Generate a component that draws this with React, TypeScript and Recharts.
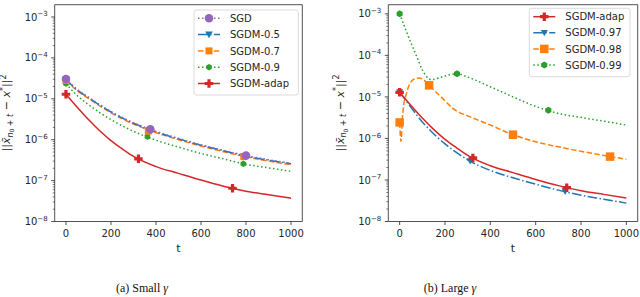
import React from "react";
import { ComposedChart, Line, Scatter, XAxis, YAxis, ReferenceArea } from "recharts";

const FONT = "DejaVu Sans, sans-serif";
const INK = "#262626";

// axes
const xTicks = [0, 200, 400, 600, 800, 1000];
const xDomain: [number, number] = [-50, 1050];
const decadeExps = [-8, -7, -6, -5, -4, -3];

// colours (matplotlib tab10)
const BLUE = "#1f77b4";
const ORANGE = "#ff7f0e";
const GREEN = "#2ca02c";
const RED = "#d62728";
const PURPLE = "#9467bd";

// (a) small gamma
const smallT = [0, 50, 100, 150, 200, 300, 400, 500, 600, 700, 800, 900, 1000];
const sgd = [3.05e-5, 1.7e-5, 1.1e-5, 7.2e-6, 4.9e-6, 2.6e-6, 1.6e-6, 1.08e-6, 7.5e-7, 5.5e-7, 4.1e-7, 3.25e-7, 2.65e-7];
const sgdm05 = [2.95e-5, 1.65e-5, 1.07e-5, 7.0e-6, 4.75e-6, 2.52e-6, 1.55e-6, 1.05e-6, 7.3e-7, 5.35e-7, 4.0e-7, 3.15e-7, 2.58e-7];
const sgdm07 = [2.8e-5, 1.58e-5, 1.02e-5, 6.7e-6, 4.55e-6, 2.42e-6, 1.49e-6, 1.0e-6, 7.0e-7, 5.1e-7, 3.8e-7, 3.0e-7, 2.45e-7];
const sgdm09 = [2.35e-5, 1.2e-5, 7.2e-6, 4.6e-6, 3.1e-6, 1.6e-6, 9.7e-7, 6.6e-7, 4.6e-7, 3.4e-7, 2.5e-7, 2.05e-7, 1.68e-7];

const adapT = [0, 50, 100, 150, 200, 250, 300, 400, 500, 600, 700, 800, 900, 1000];
const adap = [1.29e-5, 6.2e-6, 3.1e-6, 1.65e-6, 9.5e-7, 6.0e-7, 3.9e-7, 2.2e-7, 1.5e-7, 1.03e-7, 7.3e-8, 5.5e-8, 4.5e-8, 3.7e-8];

const sgdMarkT = [0, 375, 800];
const sgdMarkV = [3.05e-5, 1.8e-6, 4.1e-7];
const sgdm05MarkT = [0, 372, 797];
const sgdm05MarkV = [2.95e-5, 1.73e-6, 4.0e-7];
const sgdm07MarkT = [0, 366, 790];
const sgdm07MarkV = [2.8e-5, 1.62e-6, 3.85e-7];
const sgdm09MarkT = [0, 362, 788];
const sgdm09MarkV = [2.35e-5, 1.18e-6, 2.57e-7];
const adapMarkT = [0, 322, 740];
const adapMarkV = [1.29e-5, 3.4e-7, 6.5e-8];

// (b) large gamma
const sgdm97 = [1.3e-5, 5.6e-6, 2.5e-6, 1.3e-6, 7.4e-7, 4.6e-7, 3.05e-7, 1.7e-7, 1.13e-7, 7.9e-8, 5.7e-8, 4.3e-8, 3.45e-8, 2.77e-8];
const sgdm98T = [0, 6, 12, 18, 25, 40, 60, 85, 105, 130, 180, 250, 300, 400, 500, 600, 700, 800, 900, 1000];
const sgdm98 = [2.43e-6, 8.5e-7, 3.0e-6, 6.5e-6, 9.5e-6, 1.8e-5, 2.6e-5, 2.85e-5, 2.6e-5, 1.9e-5, 1.03e-5, 4.6e-6, 3.5e-6, 2.1e-6, 1.23e-6, 8.3e-7, 6.3e-7, 4.9e-7, 3.9e-7, 3.15e-7];
const sgdm99T = [0, 25, 50, 75, 100, 140, 200, 253, 300, 400, 500, 600, 700, 800, 900, 1000];
const sgdm99 = [1.0e-3, 4.4e-4, 2.0e-4, 9.5e-5, 4.5e-5, 2.6e-5, 3.2e-5, 3.6e-5, 3.0e-5, 1.75e-5, 1.0e-5, 5.9e-6, 4.0e-6, 3.2e-6, 2.6e-6, 2.1e-6];

const adapBMarkT = [0, 323, 737];
const adapBMarkV = [1.29e-5, 3.4e-7, 6.5e-8];
const sgdm97MarkT = [0, 311, 730];
const sgdm97MarkV = [1.3e-5, 2.85e-7, 5.3e-8];
const sgdm98MarkT = [0, 130, 500, 928];
const sgdm98MarkV = [2.43e-6, 1.9e-5, 1.23e-6, 3.65e-7];
const sgdm99MarkT = [0, 253, 656];
const sgdm99MarkV = [1.0e-3, 3.6e-5, 4.75e-6];

const DOTTED = "1.5 2.5";
const DASHED = "5.5 2.4";
const DASHDOT = "9.6 2.4 1.5 2.4";

type Kind = "o" | "v" | "s" | "h" | "P";
type Series = {
  name: string;
  t: number[];
  v: number[];
  markT: number[];
  markV: number[];
  color: string;
  dash?: string;
  kind: Kind;
  size: number;
};

const pts = (t: number[], v: number[]) => t.map((x, i) => ({ t: x, v: v[i] }));

const logTicks = (yMax: number) =>
  decadeExps
    .flatMap((e) => [1, 2, 3, 4, 5, 6, 7, 8, 9].map((m) => Number(`${m}e${e}`)))
    .filter((v) => v <= yMax);

function Marker({ kind, cx, cy, color, size }: { kind: Kind; cx: number; cy: number; color: string; size: number }) {
  const r = size / 2;
  if (cx == null || cy == null) return null;
  if (kind === "o") return <circle cx={cx} cy={cy} r={r} fill={color} />;
  if (kind === "s") return <rect x={cx - r} y={cy - r} width={size} height={size} fill={color} />;
  if (kind === "v")
    return <polygon points={`${cx - r},${cy - r * 0.8} ${cx + r},${cy - r * 0.8} ${cx},${cy + r}`} fill={color} />;
  if (kind === "h") {
    const p = [0, 1, 2, 3, 4, 5]
      .map((k) => {
        const a = ((-90 + 60 * k) * Math.PI) / 180;
        return `${cx + r * Math.cos(a)},${cy + r * Math.sin(a)}`;
      })
      .join(" ");
    return <polygon points={p} fill={color} />;
  }
  const w = r * 0.38;
  const P = [
    [-w, -r], [w, -r], [w, -w], [r, -w], [r, w], [w, w],
    [w, r], [-w, r], [-w, w], [-r, w], [-r, -w], [-w, -w],
  ];
  return <polygon points={P.map(([a, b]) => `${cx + a},${cy + b}`).join(" ")} fill={color} />;
}

const XTick = (props: any) => {
  const { x, y, payload } = props;
  return (
    <g>
      <line x1={x} x2={x} y1={y} y2={y + 3.5} stroke={INK} strokeWidth={0.8} />
      <text x={x} y={y + 15.5} textAnchor="middle" fontSize={10} fontFamily={FONT} fill={INK}>
        {payload.value}
      </text>
    </g>
  );
};

const YTick = (props: any) => {
  const { x, y, payload } = props;
  const e = Math.log10(payload.value);
  const major = Math.abs(e - Math.round(e)) < 1e-6;
  return (
    <g>
      <line x1={x} x2={x - (major ? 3.5 : 2)} y1={y} y2={y} stroke={INK} strokeWidth={major ? 0.8 : 0.6} />
      {major && (
        <text x={x - 7} y={y + 3.6} textAnchor="end" fontSize={10} fontFamily={FONT} fill={INK}>
          <tspan>10</tspan>
          <tspan fontSize={7} dy={-4.5}>{`\u2212${-Math.round(e)}`}</tspan>
        </text>
      )}
    </g>
  );
};

function YLabel({ x, y }: { x: number; y: number }) {
  return (
    <text transform={`translate(${x},${y}) rotate(-90)`} textAnchor="middle" fontSize={11} fontFamily={FONT} fill={INK}>
      <tspan>||</tspan>
      <tspan fontStyle="italic">x̄</tspan>
      <tspan fontSize={8} dy={2.5} fontStyle="italic">n</tspan>
      <tspan fontSize={6} dy={1.5}>0</tspan>
      <tspan fontSize={8} dy={-1.5}> + </tspan>
      <tspan fontSize={8} fontStyle="italic">t</tspan>
      <tspan dy={-2.5}> − </tspan>
      <tspan fontStyle="italic">x</tspan>
      <tspan fontSize={8} dy={-4.5}>*</tspan>
      <tspan dy={4.5}>||</tspan>
      <tspan fontSize={8} dy={-4.5}>2</tspan>
    </text>
  );
}

type LegendBox = { x: number; y: number; w: number; h: number; row0: number; step: number };

function Panel(props: {
  left: number;
  yAxisWidth: number;
  rightMargin: number;
  yMax: number;
  series: Series[];
  caption: string;
  captionX: number;
  yLabelX: number;
  legend: LegendBox;
}) {
  const { left, yAxisWidth, rightMargin, yMax, series, caption, captionX, yLabelX, legend } = props;
  const W = 320;
  const H = 297;
  const plotLeft = yAxisWidth;
  const plotRight = W - rightMargin;
  const drawOrder = [...series].reverse();
  return (
    <div style={{ position: "absolute", left, top: 0, width: W, height: H }}>
      <ComposedChart width={W} height={H} margin={{ top: 4.7, right: rightMargin, bottom: 0, left: 0 }}>
        <XAxis
          dataKey="t"
          type="number"
          domain={xDomain}
          ticks={xTicks}
          interval={0}
          allowDataOverflow
          axisLine={false}
          tickLine={false}
          tickSize={0}
          tickMargin={0}
          height={75.5}
          tick={<XTick />}
        />
        <YAxis
          dataKey="v"
          type="number"
          scale="log"
          domain={[1e-8, yMax]}
          ticks={logTicks(yMax)}
          interval={0}
          allowDataOverflow
          axisLine={false}
          tickLine={false}
          tickSize={0}
          tickMargin={0}
          width={yAxisWidth}
          tick={<YTick />}
        />
        {drawOrder.map((s) => (
          <Line
            key={`l-${s.name}`}
            data={pts(s.t, s.v)}
            dataKey="v"
            type="monotone"
            stroke={s.color}
            strokeWidth={1.5}
            strokeDasharray={s.dash}
            dot={false}
            activeDot={false}
            isAnimationActive={false}
          />
        ))}
        {drawOrder.map((s) => (
          <Scatter
            key={`m-${s.name}`}
            data={pts(s.markT, s.markV)}
            dataKey="v"
            isAnimationActive={false}
            shape={(p: any) => <Marker kind={s.kind} cx={p.cx} cy={p.cy} color={s.color} size={s.size} />}
          />
        ))}
        <ReferenceArea x1={xDomain[0]} x2={xDomain[1]} y1={1e-8} y2={yMax} fill="none" stroke={INK} strokeWidth={0.8} />
      </ComposedChart>
      <svg width={W} height={H} style={{ position: "absolute", left: 0, top: 0, pointerEvents: "none" }}>
        <YLabel x={yLabelX} y={113} />
        <text x={(plotLeft + plotRight) / 2} y={252} textAnchor="middle" fontSize={11} fontFamily={FONT} fill={INK}>
          t
        </text>
        <text x={captionX} y={292} textAnchor="middle" fontSize={12} fontFamily="Liberation Serif, serif" fill="#111">
          {caption} <tspan fontStyle="italic">γ</tspan>
        </text>
        <rect x={legend.x} y={legend.y} width={legend.w} height={legend.h} rx={2.5} fill="#fff" fillOpacity={0.8} stroke="#d0d0d0" strokeWidth={0.8} />
        {series.map((s, i) => {
          const cy = legend.row0 + i * legend.step;
          const lx = legend.x + 4;
          return (
            <g key={`lg-${s.name}`}>
              <line x1={lx} x2={lx + 22} y1={cy} y2={cy} stroke={s.color} strokeWidth={1.5} strokeDasharray={s.dash} />
              <Marker kind={s.kind} cx={lx + 11} cy={cy} color={s.color} size={s.size} />
              <text x={lx + 32} y={cy + 3.6} fontSize={10} fontFamily={FONT} fill={INK}>
                {s.name}
              </text>
            </g>
          );
        })}
      </svg>
    </div>
  );
}

const smallSeries: Series[] = [
  { name: "SGD", t: smallT, v: sgd, markT: sgdMarkT, markV: sgdMarkV, color: PURPLE, dash: DOTTED, kind: "o", size: 8.5 },
  { name: "SGDM-0.5", t: smallT, v: sgdm05, markT: sgdm05MarkT, markV: sgdm05MarkV, color: BLUE, dash: DASHDOT, kind: "v", size: 7.5 },
  { name: "SGDM-0.7", t: smallT, v: sgdm07, markT: sgdm07MarkT, markV: sgdm07MarkV, color: ORANGE, dash: DASHED, kind: "s", size: 7 },
  { name: "SGDM-0.9", t: smallT, v: sgdm09, markT: sgdm09MarkT, markV: sgdm09MarkV, color: GREEN, dash: DOTTED, kind: "h", size: 6.5 },
  { name: "SGDM-adap", t: adapT, v: adap, markT: adapMarkT, markV: adapMarkV, color: RED, kind: "P", size: 8.5 },
];

const largeSeries: Series[] = [
  { name: "SGDM-adap", t: adapT, v: adap, markT: adapBMarkT, markV: adapBMarkV, color: RED, kind: "P", size: 8.5 },
  { name: "SGDM-0.97", t: adapT, v: sgdm97, markT: sgdm97MarkT, markV: sgdm97MarkV, color: BLUE, dash: DASHDOT, kind: "v", size: 7 },
  { name: "SGDM-0.98", t: sgdm98T, v: sgdm98, markT: sgdm98MarkT, markV: sgdm98MarkV, color: ORANGE, dash: DASHED, kind: "s", size: 8.5 },
  { name: "SGDM-0.99", t: sgdm99T, v: sgdm99, markT: sgdm99MarkT, markV: sgdm99MarkV, color: GREEN, dash: DOTTED, kind: "h", size: 7 },
];

export default function App() {
  return (
    <div style={{ position: "absolute", left: 0, top: 0, width: 640, height: 297, background: "#fff" }}>
      <Panel
        left={0}
        yAxisWidth={54.7}
        rightMargin={17.7}
        yMax={Math.pow(10, -2.7)}
        series={smallSeries}
        caption="(a) Small"
        captionX={142}
        yLabelX={10}
        legend={{ x: 194, y: 10, w: 104.3, h: 85, row0: 18.3, step: 16.3 }}
      />
      <Panel
        left={320}
        yAxisWidth={68.3}
        rightMargin={2.3}
        yMax={Math.pow(10, -2.78)}
        series={largeSeries}
        caption="(b) Large"
        captionX={130}
        yLabelX={23.5}
        legend={{ x: 209.3, y: 8.3, w: 100.7, h: 68.4, row0: 16.7, step: 16.1 }}
      />
    </div>
  );
}
